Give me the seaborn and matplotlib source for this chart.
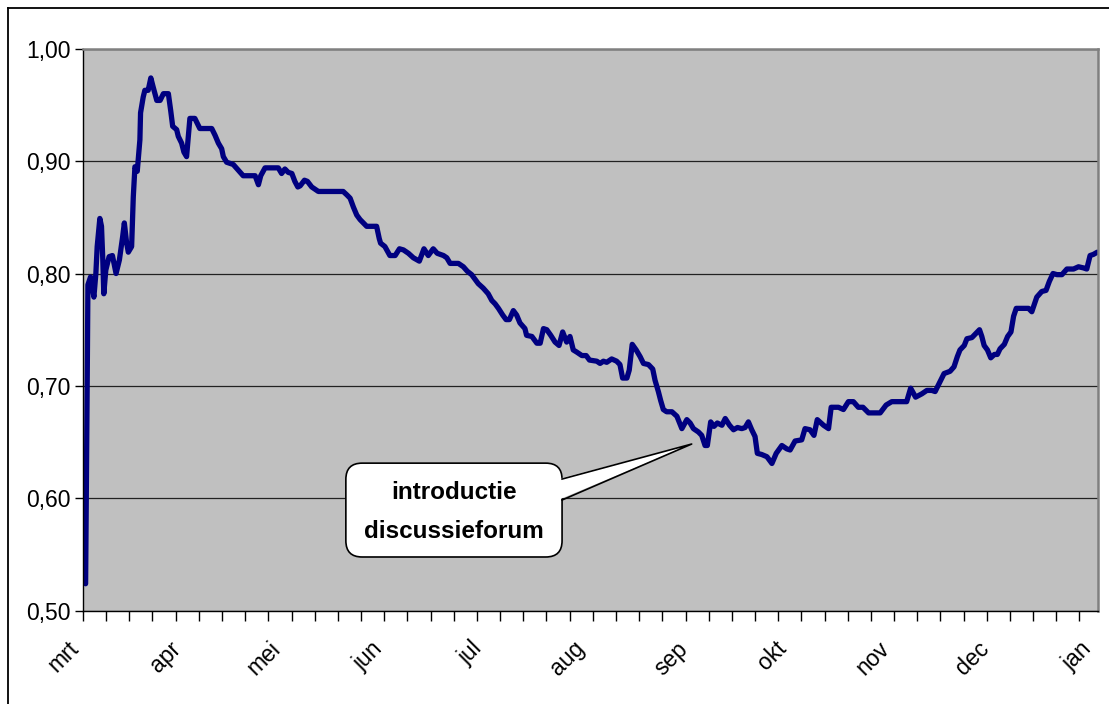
import numpy as np
import matplotlib
matplotlib.use("Agg")
import matplotlib.pyplot as plt
import seaborn as sns
from matplotlib.patches import FancyBboxPatch, Polygon
from matplotlib.lines import Line2D

# days since 1 March, and the value
days = [
    0.8, 1.1, 1.3, 1.5, 2.3, 3.3, 3.9, 4.3, 5.1, 5.6,
    6.0, 6.3, 6.9, 7.9, 8.9, 10.0, 11.0, 12.0, 12.5, 13.2,
    13.7, 14.7, 15.2, 15.7, 16.4, 17.2, 17.4, 18.2, 18.7, 19.7,
    20.5, 21.2, 22.3, 23.3, 24.3, 25.8, 26.5, 27.1, 28.3, 28.8,
    29.8, 30.5, 31.3, 32.3, 33.8, 35.3, 38.9, 39.9, 40.9, 41.9,
    42.4, 43.4, 44.4, 45.4, 46.9, 48.4, 52.0, 53.0, 53.7, 55.0,
    59.0, 60.0, 61.0, 62.0, 63.1, 64.0, 64.9, 65.6, 66.9, 67.8,
    69.1, 71.1, 78.6, 79.7, 80.7, 81.7, 82.7, 83.7, 85.7, 88.7,
    89.5, 89.9, 91.2, 92.7, 94.3, 95.6, 96.8, 98.3, 99.8, 101.6,
    103.0, 104.3, 105.8, 107.0, 108.9, 109.9, 110.9, 113.4, 114.9, 116.1,
    117.4, 119.4, 120.9, 122.4, 123.5, 124.5, 125.5, 126.8, 127.8, 128.8,
    130.0, 131.0, 132.0, 133.5, 134.0, 135.6, 137.1, 138.1, 139.1, 140.1,
    141.3, 142.6, 143.8, 144.9, 146.1, 147.1, 148.1, 149.2, 150.7, 152.0,
    153.0, 155.2, 156.2, 157.2, 158.2, 159.7, 161.2, 162.2, 163.0, 164.3,
    165.0, 165.9, 167.1, 168.3, 169.3, 170.8, 172.1, 172.8, 173.8, 174.5,
    175.3, 176.3, 177.9, 179.4, 180.9, 182.4, 183.4, 184.4, 185.9, 186.9,
    187.9, 188.6, 189.6, 190.6, 191.6, 193.0, 194.0, 195.3, 196.5, 197.7,
    199.0, 200.0, 201.0, 202.0, 203.0, 203.7, 205.0, 206.6, 208.1, 209.4,
    211.1, 212.6, 213.6, 215.1, 217.1, 218.1, 219.6, 220.8, 221.8, 223.7,
    225.2, 226.0, 228.2, 229.7, 231.2, 232.7, 234.2, 235.6, 237.3, 240.8,
    242.6, 244.3, 248.8, 250.0, 251.5, 253.4, 254.9, 256.4, 257.4, 258.9,
    260.1, 261.9, 263.1, 264.1, 264.9, 266.2, 267.0, 268.5, 269.8, 270.8,
    271.5, 272.2, 273.2, 274.2, 275.3, 276.2, 277.0, 278.3, 279.3, 280.3,
    281.1, 281.9, 283.6, 285.6, 286.6, 287.3, 288.1, 289.6, 290.9, 291.9,
    293.0, 294.2, 295.7, 297.2, 299.2, 300.7, 302.2, 303.2, 304.2, 305.2,
    306.4,
]
values = [
    0.524, 0.630, 0.710, 0.790, 0.797, 0.779, 0.800, 0.824, 0.849, 0.842,
    0.812, 0.782, 0.803, 0.815, 0.816, 0.800, 0.812, 0.833, 0.845, 0.827,
    0.819, 0.824, 0.868, 0.895, 0.891, 0.919, 0.943, 0.957, 0.963, 0.963,
    0.974, 0.966, 0.954, 0.954, 0.960, 0.960, 0.945, 0.931, 0.928, 0.922,
    0.916, 0.908, 0.904, 0.938, 0.938, 0.929, 0.929, 0.923, 0.916, 0.911,
    0.904, 0.899, 0.898, 0.897, 0.892, 0.887, 0.887, 0.879, 0.887, 0.894,
    0.894, 0.889, 0.893, 0.890, 0.889, 0.882, 0.877, 0.878, 0.883, 0.882,
    0.877, 0.873, 0.873, 0.870, 0.867, 0.859, 0.852, 0.848, 0.842, 0.842,
    0.831, 0.827, 0.824, 0.816, 0.816, 0.822, 0.821, 0.818, 0.814, 0.811,
    0.822, 0.816, 0.822, 0.818, 0.816, 0.814, 0.809, 0.809, 0.806, 0.802,
    0.799, 0.791, 0.787, 0.782, 0.776, 0.773, 0.769, 0.763, 0.759, 0.759,
    0.767, 0.763, 0.756, 0.751, 0.745, 0.744, 0.738, 0.738, 0.751, 0.750,
    0.745, 0.739, 0.736, 0.748, 0.739, 0.744, 0.732, 0.730, 0.727, 0.727,
    0.723, 0.722, 0.720, 0.722, 0.721, 0.724, 0.722, 0.719, 0.707, 0.707,
    0.714, 0.737, 0.732, 0.726, 0.720, 0.719, 0.715, 0.705, 0.695, 0.687,
    0.679, 0.677, 0.677, 0.673, 0.662, 0.670, 0.667, 0.662, 0.659, 0.656,
    0.647, 0.647, 0.668, 0.664, 0.667, 0.665, 0.671, 0.665, 0.661, 0.663,
    0.662, 0.663, 0.668, 0.661, 0.655, 0.640, 0.639, 0.637, 0.631, 0.640,
    0.647, 0.644, 0.643, 0.651, 0.652, 0.662, 0.661, 0.656, 0.670, 0.665,
    0.662, 0.681, 0.681, 0.679, 0.686, 0.686, 0.681, 0.681, 0.676, 0.676,
    0.683, 0.686, 0.686, 0.698, 0.690, 0.693, 0.696, 0.696, 0.695, 0.704,
    0.711, 0.713, 0.717, 0.726, 0.732, 0.736, 0.742, 0.743, 0.747, 0.750,
    0.744, 0.736, 0.732, 0.725, 0.728, 0.728, 0.733, 0.737, 0.744, 0.748,
    0.762, 0.769, 0.769, 0.769, 0.766, 0.772, 0.779, 0.784, 0.785, 0.793,
    0.800, 0.799, 0.799, 0.804, 0.804, 0.806, 0.805, 0.804, 0.816, 0.817,
    0.819,
]
assert len(days) == len(values)

month_labels = ["mrt", "apr", "mei", "jun", "jul", "aug", "sep", "okt", "nov", "dec", "jan"]
month_start_days = [0, 31, 61, 92, 122, 153, 184, 214, 245, 275, 306]
ytick_values = [0.50, 0.60, 0.70, 0.80, 0.90, 1.00]
ytick_labels = ["0,50", "0,60", "0,70", "0,80", "0,90", "1,00"]
callout_text = "introductie\ndiscussieforum"

plt.rcParams["font.family"] = ["Liberation Sans", "DejaVu Sans"]

fig = plt.figure(figsize=(11.09, 7.04), dpi=100)
fig.patch.set_facecolor("white")
ax = fig.add_axes([0.0748, 0.1325, 0.9153, 0.7983])
ax.set_facecolor("#C0C0C0")

sns.lineplot(x=days, y=values, ax=ax, color="#000080", linewidth=3.8,
             estimator=None, sort=False, solid_joinstyle="round",
             solid_capstyle="round")

ax.set_xlim(0, 306.6)
ax.set_ylim(0.5, 1.0)
ax.set_xlabel("")
ax.set_ylabel("")

ax.set_yticks(ytick_values, labels=ytick_labels)
ax.yaxis.grid(True, color="#222222", linewidth=0.9)
ax.xaxis.grid(False)
ax.set_axisbelow(True)
ax.tick_params(axis="y", length=6, width=1, direction="out", pad=3,
               labelsize=16.5, colors="black")

ax.xaxis.remove_overlapping_locs = False
ax.set_xticks(np.arange(0, 306.6, 7))
ax.set_xticks(month_start_days, labels=month_labels, minor=True)
ax.tick_params(axis="x", which="major", length=7, width=1, direction="out",
               labelbottom=False)
ax.tick_params(axis="x", which="minor", length=0, pad=19, labelsize=16.5)
for lbl in ax.get_xticklabels(minor=True):
    lbl.set_rotation(45)
    lbl.set_ha("right")
    lbl.set_va("top")
    lbl.set_rotation_mode("default")

for side in ("left", "bottom"):
    ax.spines[side].set_color("black")
    ax.spines[side].set_linewidth(1.0)
for side in ("top", "right"):
    ax.spines[side].set_color("#808080")
    ax.spines[side].set_linewidth(1.8)

# callout box
bx0, by0, bw, bh = 0.259, 0.0956, 0.213, 0.167
box = FancyBboxPatch((bx0, by0), bw, bh, transform=ax.transAxes,
                     boxstyle="round,pad=0,rounding_size=0.016",
                     mutation_aspect=1015 / 562, facecolor="white",
                     edgecolor="black", linewidth=1.2, zorder=5)
ax.add_patch(box)
tip = (0.5997, 0.2966)
b_hi = (bx0 + bw, 0.2343)
b_lo = (bx0 + bw, 0.197)
tail_fill = Polygon([(b_hi[0] - 0.004, b_hi[1]), (b_lo[0] - 0.004, b_lo[1]), tip],
                    closed=True, transform=ax.transAxes, facecolor="white",
                    edgecolor="none", zorder=6)
ax.add_patch(tail_fill)
ax.add_line(Line2D([b_hi[0], tip[0], b_lo[0]], [b_hi[1], tip[1], b_lo[1]],
                   transform=ax.transAxes, color="black", linewidth=1.2, zorder=7))
ax.text(bx0 + bw / 2, by0 + bh / 2 - 0.003, callout_text, transform=ax.transAxes,
        ha="center", va="center", fontsize=17.5, fontweight="bold",
        linespacing=1.9, zorder=8)

# outer chart frame (left and top edges visible)
fig.add_artist(Line2D([8 / 1109, 8 / 1109], [0, 1 - 8 / 704],
                      transform=fig.transFigure, color="black", linewidth=1.3))
fig.add_artist(Line2D([8 / 1109, 1], [1 - 8 / 704, 1 - 8 / 704],
                      transform=fig.transFigure, color="black", linewidth=1.3))

fig.savefig("out.png", dpi=100, facecolor="white")
